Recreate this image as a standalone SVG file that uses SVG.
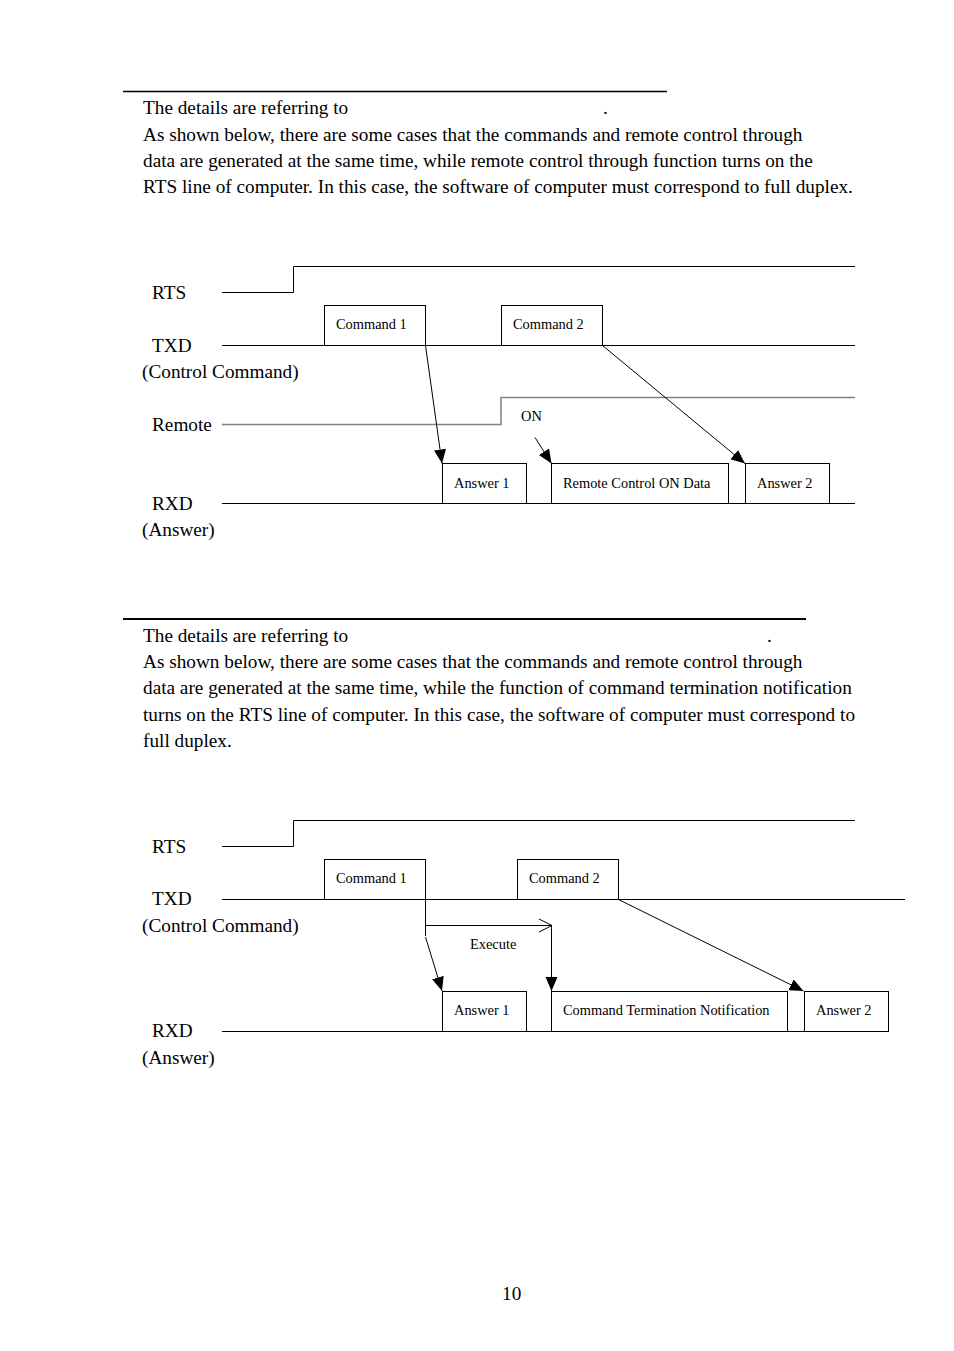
<svg xmlns="http://www.w3.org/2000/svg" width="954" height="1351" viewBox="0 0 954 1351">
<style>
.t{font-family:"Liberation Serif","Times New Roman",serif;font-size:19.25px;fill:#000}
.s{font-family:"Liberation Serif","Times New Roman",serif;font-size:14.4px;fill:#000}
.ln{stroke:#000;stroke-width:1;fill:none}
.gr{stroke:#808080;stroke-width:1.5;fill:none}
.bx{stroke:#000;stroke-width:1;fill:#fff}
.ar{stroke:#000;stroke-width:1;fill:none;marker-end:url(#ah)}
</style>
<defs>
<marker id="ah" markerUnits="userSpaceOnUse" markerWidth="16" markerHeight="14" refX="14" refY="6" orient="auto">
<path d="M0,0 L14,6 L0,12 Z" fill="#000"/>
</marker>
</defs>
<rect width="954" height="1351" fill="#fff"/>

<g id="section1-text">
<line x1="123" y1="91.5" x2="667" y2="91.5" stroke="#000" stroke-width="1.3"/>
<text class="t" x="143" y="114">The details are referring to</text>
<text class="t" x="603" y="114">.</text>
<text class="t" x="143" y="141">As shown below, there are some cases that the commands and remote control through</text>
<text class="t" x="143" y="167">data are generated at the same time, while remote control through function turns on the</text>
<text class="t" x="143" y="193">RTS line of computer. In this case, the software of computer must correspond to full duplex.</text>
</g>

<g id="d1-labels">
<text class="t" x="152" y="299">RTS</text>
<text class="t" x="152" y="352">TXD</text>
<text class="t" x="142" y="378">(Control Command)</text>
<text class="t" x="152" y="431">Remote</text>
<text class="t" x="152" y="510">RXD</text>
<text class="t" x="142" y="536">(Answer)</text>
</g>

<g id="d1-signals">
<polyline class="ln" points="222,292.5 293.5,292.5 293.5,266.5 855,266.5"/>
<line class="ln" x1="222" y1="345.5" x2="855" y2="345.5"/>
<polyline class="gr" points="222,424.5 501,424.5 501,397.5 855,397.5"/>
<line class="ln" x1="222" y1="503.5" x2="855" y2="503.5"/>
</g>

<g id="d1-cmd1"><rect class="bx" x="324.5" y="305.5" width="101" height="40"/><text class="s" x="336" y="329">Command 1</text></g>
<g id="d1-cmd2"><rect class="bx" x="501.5" y="305.5" width="101" height="40"/><text class="s" x="513" y="329">Command 2</text></g>
<g id="d1-on"><text class="s" x="521" y="421">ON</text></g>
<g id="d1-ans1"><rect class="bx" x="442.5" y="463.5" width="84" height="40"/><text class="s" x="454" y="488">Answer 1</text></g>
<g id="d1-rcod"><rect class="bx" x="551.5" y="463.5" width="177" height="40"/><text class="s" x="563" y="488">Remote Control ON Data</text></g>
<g id="d1-ans2"><rect class="bx" x="745.5" y="463.5" width="84" height="40"/><text class="s" x="757" y="488">Answer 2</text></g>

<g id="d1-connectors">
<line class="ar" x1="425.5" y1="345.5" x2="442" y2="463.5"/>
<line class="ar" x1="535" y1="437.5" x2="551.5" y2="463.5"/>
<line class="ar" x1="602.5" y1="345.5" x2="745" y2="463.5"/>
</g>

<g id="section2-text">
<line x1="123" y1="619" x2="806" y2="619" stroke="#000" stroke-width="2"/>
<text class="t" x="143" y="642">The details are referring to</text>
<text class="t" x="767" y="642">.</text>
<text class="t" x="143" y="668">As shown below, there are some cases that the commands and remote control through</text>
<text class="t" x="143" y="694">data are generated at the same time, while the function of command termination notification</text>
<text class="t" x="143" y="721">turns on the RTS line of computer. In this case, the software of computer must correspond to</text>
<text class="t" x="143" y="747">full duplex.</text>
</g>

<g id="d2-labels">
<text class="t" x="152" y="853">RTS</text>
<text class="t" x="152" y="905">TXD</text>
<text class="t" x="142" y="932">(Control Command)</text>
<text class="t" x="152" y="1037">RXD</text>
<text class="t" x="142" y="1064">(Answer)</text>
</g>

<g id="d2-signals">
<polyline class="ln" points="222,846.5 293.5,846.5 293.5,820.5 855,820.5"/>
<line class="ln" x1="222" y1="899.5" x2="905" y2="899.5"/>
<line class="ln" x1="222" y1="1031.5" x2="888" y2="1031.5"/>
</g>

<g id="d2-cmd1"><rect class="bx" x="324.5" y="859.5" width="101" height="40"/><text class="s" x="336" y="883">Command 1</text></g>
<g id="d2-cmd2"><rect class="bx" x="517.5" y="859.5" width="101" height="40"/><text class="s" x="529" y="883">Command 2</text></g>
<g id="d2-execute"><text class="s" x="470" y="949">Execute</text></g>
<g id="d2-ans1"><rect class="bx" x="442.5" y="991.5" width="84" height="40"/><text class="s" x="454" y="1015">Answer 1</text></g>
<g id="d2-ctn"><rect class="bx" x="551.5" y="991.5" width="236" height="40"/><text class="s" x="563" y="1015">Command Termination Notification</text></g>
<g id="d2-ans2"><rect class="bx" x="804.5" y="991.5" width="84" height="40"/><text class="s" x="816" y="1015">Answer 2</text></g>

<g id="d2-connectors">
<polyline class="ln" points="425.5,899.5 425.5,936"/>
<line class="ar" x1="425.5" y1="937" x2="442" y2="991"/>
<line class="ln" x1="425.5" y1="925.5" x2="552" y2="925.5"/>
<polyline class="ln" points="539,919 552,925.5 539,932"/>
<line class="ar" x1="551.5" y1="925.5" x2="551.5" y2="991"/>
<line class="ar" x1="618.5" y1="899.5" x2="803.5" y2="991"/>
</g>

<g id="page-number"><text class="t" x="502" y="1300">10</text></g>
</svg>
